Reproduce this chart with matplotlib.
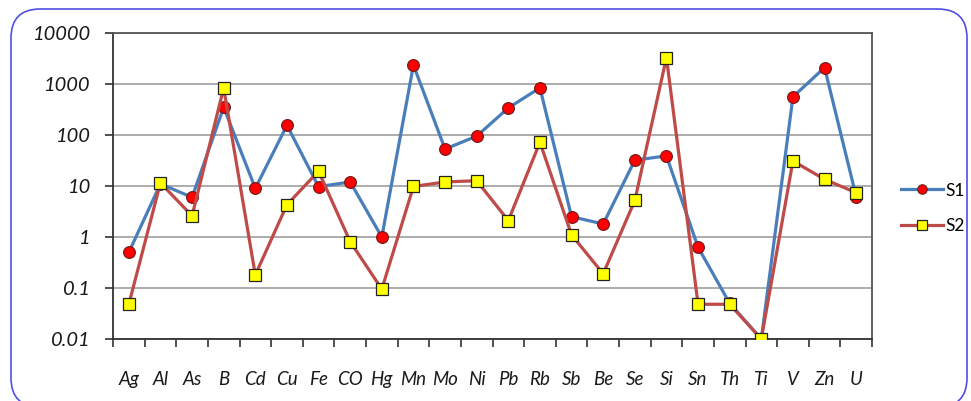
import numpy as np
import matplotlib
matplotlib.use("Agg")
import matplotlib.pyplot as plt
from matplotlib.patches import FancyBboxPatch
from matplotlib.ticker import FixedLocator, NullFormatter

# data (log scale)
elements = ["Ag", "Al", "As", "B", "Cd", "Cu", "Fe", "CO", "Hg", "Mn", "Mo", "Ni",
            "Pb", "Rb", "Sb", "Be", "Se", "Si", "Sn", "Th", "Ti", "V", "Zn", "U"]
s1 = [0.5, 11, 6, 350, 9, 155, 9.7, 12, 1, 2350, 53, 95,
      340, 840, 2.5, 1.8, 32, 39, 0.63, 0.05, 0.01, 560, 2100, 6.2]
s2 = [0.048, 11.5, 2.6, 840, 0.18, 4.3, 19.5, 0.81, 0.095, 9.8, 12, 12.7,
      2.1, 72, 1.1, 0.19, 5.2, 3300, 0.048, 0.048, 0.01, 31, 13.5, 7.4]
yticks = [0.01, 0.1, 1, 10, 100, 1000, 10000]
ytick_labels = ["0.01", "0.1", "1", "10", "100", "1000", "10000"]

plt.rcParams["font.family"] = ["Lato", "DejaVu Sans"]

fig = plt.figure(figsize=(9.71, 4.01), dpi=100)
ax = fig.add_axes([113 / 971, 1 - 339 / 401, (872 - 113) / 971, (339 - 33) / 401])

x = np.arange(len(elements))
ax.plot(x, s1, color="#4a7ebb", lw=2.3, marker="o", ms=8.5,
        mfc="#ff0000", mec="#6b1a1a", mew=0.8, label="S1", zorder=3)
ax.plot(x, s2, color="#be4b48", lw=2.3, marker="s", ms=8.5,
        mfc="#ffff00", mec="#222222", mew=0.9, label="S2", zorder=4)

ax.set_yscale("log")
ax.set_ylim(0.01, 10000)
ax.set_xlim(-0.5, len(elements) - 0.5)

ax.yaxis.set_major_locator(FixedLocator(yticks))
ax.yaxis.set_minor_locator(FixedLocator([]))
ax.set_yticklabels(ytick_labels, fontsize=14.5, style="italic", color="#1a1a1a")
ax.grid(axis="y", color="#a6a6a6", lw=1.3)
ax.set_axisbelow(True)

ax.set_xticks(x)
ax.set_xticklabels(elements, fontsize=13.5, style="italic", color="#1a1a1a")
ax.xaxis.set_minor_locator(FixedLocator(np.arange(len(elements) + 1) - 0.5))
ax.xaxis.set_minor_formatter(NullFormatter())
ax.tick_params(axis="x", which="major", length=0, pad=23)
ax.tick_params(axis="x", which="minor", length=6, width=1.2, color="#333333")
ax.tick_params(axis="y", which="major", length=6, width=1.2, color="#333333", pad=10)

for side in ["left", "bottom"]:
    ax.spines[side].set_color("#333333")
    ax.spines[side].set_linewidth(1.3)
for side in ["top", "right"]:
    ax.spines[side].set_color("#555555")
    ax.spines[side].set_linewidth(1.3)

leg = ax.legend(loc="center left", bbox_to_anchor=(901 / 971, 1 - 208.5 / 401),
                bbox_transform=fig.transFigure, frameon=False, fontsize=12.5,
                handlelength=2.4, labelspacing=1.15, handletextpad=0.15,
                borderpad=0, borderaxespad=0, markerscale=0.8)

# rounded outer frame, bottom edge runs just past the image
border = FancyBboxPatch((11 / 971, -6 / 401), 956 / 971, 398 / 401,
                        boxstyle="round,pad=0,rounding_size=0.03",
                        transform=fig.transFigure, fill=False,
                        ec="#4f4fe8", lw=1.2, mutation_aspect=971 / 401)
fig.patches.append(border)

fig.savefig("out.png", dpi=100)
